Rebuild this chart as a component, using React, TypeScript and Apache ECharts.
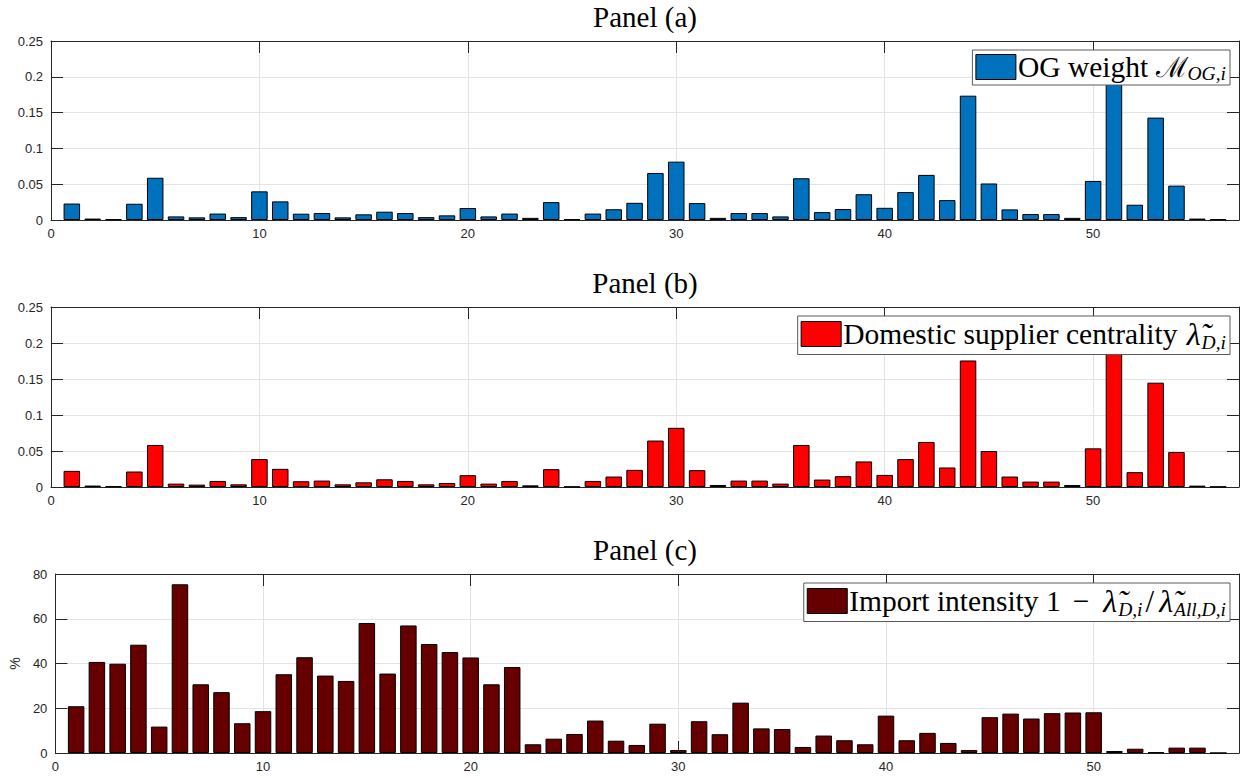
import React, { useEffect, useRef } from "react";
import * as echarts from "echarts";

const sectors: number[] = Array.from({ length: 56 }, (_, i) => i + 1);

const ogWeight: number[] = [
  0.023, 0.002, 0.001, 0.0227, 0.059, 0.005, 0.0037, 0.009, 0.004, 0.040,
  0.026, 0.0088, 0.0097, 0.0037, 0.0079, 0.0116, 0.0097, 0.004, 0.0065, 0.0167,
  0.005, 0.009, 0.003, 0.025, 0.001, 0.009, 0.015, 0.024, 0.0657, 0.0815,
  0.0236, 0.003, 0.0097, 0.0097, 0.005, 0.0583, 0.011, 0.0153, 0.036, 0.017,
  0.039, 0.063, 0.0278, 0.1736, 0.051, 0.0148, 0.0083, 0.0083, 0.003, 0.0546,
  0.215, 0.0213, 0.143, 0.048, 0.002, 0.001,
];

const domesticCentrality: number[] = [
  0.0224, 0.002, 0.001, 0.0215, 0.0584, 0.0047, 0.0033, 0.0084, 0.0037, 0.0388,
  0.0252, 0.008, 0.0089, 0.0037, 0.0065, 0.0107, 0.0084, 0.0037, 0.0056, 0.0164,
  0.0047, 0.0084, 0.0023, 0.0248, 0.0005, 0.0084, 0.0145, 0.0238, 0.0645, 0.0822,
  0.0234, 0.0028, 0.0089, 0.0089, 0.0047, 0.0584, 0.0103, 0.015, 0.0355, 0.0168,
  0.0388, 0.0626, 0.0271, 0.1757, 0.05, 0.0145, 0.0075, 0.0075, 0.0028, 0.0537,
  0.21, 0.0206, 0.1449, 0.0486, 0.0019, 0.0005,
];

const importIntensity: number[] = [
  20.9, 40.7, 39.9, 48.4, 11.8, 75.4, 30.7, 27.2, 13.3, 18.7,
  35.2, 42.8, 34.6, 32.2, 58.1, 35.5, 57.0, 48.7, 45.1, 42.7,
  30.7, 38.4, 3.9, 6.4, 8.5, 14.5, 5.5, 3.6, 13.1, 1.3,
  14.2, 8.4, 22.5, 11.0, 10.7, 2.7, 7.8, 5.7, 3.9, 16.7,
  5.7, 9.0, 4.5, 1.3, 16.0, 17.6, 15.4, 17.8, 18.1, 18.2,
  0.9, 1.9, 0.3, 2.4, 2.4, 0,
];

const panelTitles: string[] = ["Panel (a)", "Panel (b)", "Panel (c)"];
const seriesNames: string[] = ["OG weight", "Domestic supplier centrality", "Import intensity"];
const seriesColors: string[] = ["#0072BD", "#FF0000", "#660000"];

const AXIS = "#262626";
const GRIDC = "#e3e3e3";
const SANS = "Liberation Sans, Arial, sans-serif";
const SERIF = "Liberation Serif, Times New Roman, serif";

const gridTops = [41, 307, 574];
const gridHeights = [179, 180, 179];

export default function App() {
  const ref = useRef<HTMLDivElement>(null);

  useEffect(() => {
    if (!ref.current) return;
    const chart = echarts.init(ref.current, null, { renderer: "svg" });

    const datasets = [ogWeight, domesticCentrality, importIntensity];
    const yMax = [0.25, 0.25, 80];
    const yInt = [0.05, 0.05, 20];

    const grids = gridTops.map((t, i) => ({ left: 51, right: 5, top: t, height: gridHeights[i] }));

    const xAxes: any[] = [];
    const yAxes: any[] = [];
    for (let i = 0; i < 3; i++) {
      xAxes.push({
        gridIndex: i, type: "value", min: 0, max: 57, interval: 10, position: "bottom",
        axisLine: { show: true, onZero: false, lineStyle: { color: AXIS, width: 1 } },
        axisTick: { show: true, inside: true, length: 12, lineStyle: { color: AXIS } },
        axisLabel: { showMaxLabel: false, color: AXIS, fontSize: 13, fontFamily: SANS, margin: 7 },
        splitLine: { show: true, lineStyle: { color: GRIDC, width: 1 } },
      });
      xAxes.push({
        gridIndex: i, type: "value", min: 0, max: 57, interval: 10, position: "top",
        axisLine: { show: true, onZero: false, lineStyle: { color: AXIS, width: 1 } },
        axisTick: { show: true, inside: true, length: 12, lineStyle: { color: AXIS } },
        axisLabel: { show: false },
        splitLine: { show: false },
      });
      yAxes.push({
        gridIndex: i, type: "value", min: 0, max: yMax[i], interval: yInt[i], position: "left",
        axisLine: { show: true, onZero: false, lineStyle: { color: AXIS, width: 1 } },
        axisTick: { show: true, inside: true, length: 12, lineStyle: { color: AXIS } },
        axisLabel: { color: AXIS, fontSize: 13, fontFamily: SANS, margin: 8 },
        splitLine: { show: true, lineStyle: { color: GRIDC, width: 1 } },
        name: i === 2 ? "%" : "",
        nameLocation: "middle",
        nameRotate: 90,
        nameGap: 30,
        nameTextStyle: { color: AXIS, fontSize: 14, fontFamily: SANS },
      });
      yAxes.push({
        gridIndex: i, type: "value", min: 0, max: yMax[i], interval: yInt[i], position: "right",
        axisLine: { show: true, onZero: false, lineStyle: { color: AXIS, width: 1 } },
        axisTick: { show: true, inside: true, length: 12, lineStyle: { color: AXIS } },
        axisLabel: { show: false },
        splitLine: { show: false },
      });
    }

    const series = datasets.map((d, i) => ({
      type: "bar",
      name: seriesNames[i],
      xAxisIndex: 2 * i,
      yAxisIndex: 2 * i,
      barWidth: 16.5,
      data: sectors.map((s, k) => [s, d[k]]),
      itemStyle: { color: seriesColors[i], borderColor: "#000", borderWidth: 1 },
      emphasis: { disabled: true },
    }));

    const makeRich = (lh: number) => ({
      t: { fontFamily: SERIF, fontSize: 29.5, color: "#000", lineHeight: lh },
      g: { fontFamily: SERIF, fontSize: 29.5, color: "#000", lineHeight: lh, padding: [0, 12, 0, 12] },
      d: { fontFamily: SERIF, fontSize: 31, color: "#000", lineHeight: lh, padding: [0, 3, 0, 3] },
      m: { fontFamily: "DejaVu Serif, serif", fontSize: 28, color: "#000", lineHeight: lh },
      l: { fontFamily: SERIF, fontSize: 32, fontStyle: "italic", color: "#000", lineHeight: lh, padding: [0, 1, 0, 2] },
      s: { fontFamily: SERIF, fontSize: 19.5, fontStyle: "italic", color: "#000", lineHeight: 13, verticalAlign: "bottom" },
    });

    const legendText: Record<string, string> = {
      "OG weight": "{t|OG weight }{m|ℳ}{s|OG,i}",
      "Domestic supplier centrality": "{t|Domestic supplier centrality }{l|λ̃}{s|D,i}",
      "Import intensity": "{t|Import intensity 1}{g|−}{l|λ̃}{s|D,i}{d|/}{l|λ̃}{s|All,D,i}",
    };

    const legendTops = [50, 316, 583];
    const legendLH = [32, 37, 37];
    const legends = seriesNames.map((n, i) => ({
      data: [n],
      right: 14,
      top: legendTops[i],
      orient: "horizontal",
      itemWidth: 40,
      itemHeight: 25,
      padding: [2, 4, 2, 3],
      backgroundColor: "#fff",
      borderColor: "#5a5a5a",
      borderWidth: 1,
      borderRadius: 0,
      selectedMode: false,
      icon: "rect",
      itemStyle: { borderColor: "#000", borderWidth: 1 },
      formatter: (name: string) => legendText[name],
      textStyle: { fontFamily: SERIF, fontSize: 29.5, color: "#000", rich: makeRich(legendLH[i]), padding: [0, 0, 0, -3] },
    }));

    const graphics = panelTitles.map((t, i) => ({
      type: "text",
      x: 645,
      y: gridTops[i] - 24,
      style: {
        text: t,
        fill: "#000",
        font: `29px ${SERIF}`,
        textAlign: "center",
        textVerticalAlign: "middle",
      },
    }));

    chart.setOption({
      animation: false,
      backgroundColor: "#fff",
      grid: grids,
      xAxis: xAxes,
      yAxis: yAxes,
      series,
      legend: legends,
      graphic: graphics,
    });

    return () => chart.dispose();
  }, []);

  return (
    <div
      ref={ref}
      style={{ position: "absolute", left: 0, top: 0, width: 1244, height: 778 }}
    />
  );
}
